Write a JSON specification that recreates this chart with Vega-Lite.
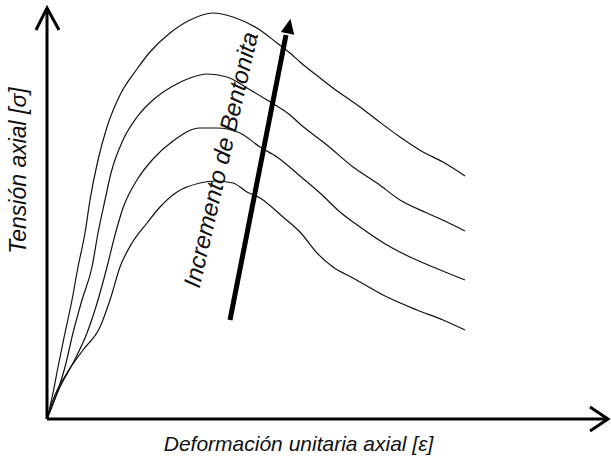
{
  "$schema": "https://vega.github.io/schema/vega-lite/v6.json",
  "width": 564,
  "height": 412,
  "autosize": {"type": "none"},
  "padding": {"left": 47, "top": 7, "right": 0, "bottom": 43},
  "background": "white",
  "config": {"view": {"stroke": null}},
  "datasets": {
    "curves": [
      {"curve": "c1", "strain": 0, "stress": 0},
      {"curve": "c1", "strain": 6, "stress": 26},
      {"curve": "c1", "strain": 11, "stress": 52},
      {"curve": "c1", "strain": 18, "stress": 86},
      {"curve": "c1", "strain": 25, "stress": 119},
      {"curve": "c1", "strain": 31, "stress": 152},
      {"curve": "c1", "strain": 38, "stress": 186},
      {"curve": "c1", "strain": 43, "stress": 219},
      {"curve": "c1", "strain": 51, "stress": 259},
      {"curve": "c1", "strain": 60, "stress": 292},
      {"curve": "c1", "strain": 73, "stress": 324},
      {"curve": "c1", "strain": 90, "stress": 350},
      {"curve": "c1", "strain": 103, "stress": 367},
      {"curve": "c1", "strain": 123, "stress": 386},
      {"curve": "c1", "strain": 143, "stress": 399},
      {"curve": "c1", "strain": 166, "stress": 406},
      {"curve": "c1", "strain": 186, "stress": 402},
      {"curve": "c1", "strain": 213, "stress": 389},
      {"curve": "c1", "strain": 230, "stress": 376},
      {"curve": "c1", "strain": 243, "stress": 366},
      {"curve": "c1", "strain": 253, "stress": 357},
      {"curve": "c1", "strain": 273, "stress": 341},
      {"curve": "c1", "strain": 286, "stress": 331},
      {"curve": "c1", "strain": 313, "stress": 312},
      {"curve": "c1", "strain": 330, "stress": 299},
      {"curve": "c1", "strain": 353, "stress": 282},
      {"curve": "c1", "strain": 376, "stress": 267},
      {"curve": "c1", "strain": 396, "stress": 257},
      {"curve": "c1", "strain": 418, "stress": 243},
      {"curve": "c2", "strain": 0, "stress": 0},
      {"curve": "c2", "strain": 10, "stress": 26},
      {"curve": "c2", "strain": 18, "stress": 52},
      {"curve": "c2", "strain": 26, "stress": 86},
      {"curve": "c2", "strain": 35, "stress": 119},
      {"curve": "c2", "strain": 45, "stress": 152},
      {"curve": "c2", "strain": 51, "stress": 186},
      {"curve": "c2", "strain": 58, "stress": 219},
      {"curve": "c2", "strain": 64, "stress": 246},
      {"curve": "c2", "strain": 76, "stress": 279},
      {"curve": "c2", "strain": 90, "stress": 302},
      {"curve": "c2", "strain": 106, "stress": 319},
      {"curve": "c2", "strain": 126, "stress": 333},
      {"curve": "c2", "strain": 143, "stress": 341},
      {"curve": "c2", "strain": 160, "stress": 345},
      {"curve": "c2", "strain": 180, "stress": 342},
      {"curve": "c2", "strain": 200, "stress": 331},
      {"curve": "c2", "strain": 220, "stress": 319},
      {"curve": "c2", "strain": 243, "stress": 304},
      {"curve": "c2", "strain": 253, "stress": 295},
      {"curve": "c2", "strain": 280, "stress": 274},
      {"curve": "c2", "strain": 306, "stress": 252},
      {"curve": "c2", "strain": 330, "stress": 236},
      {"curve": "c2", "strain": 353, "stress": 219},
      {"curve": "c2", "strain": 380, "stress": 206},
      {"curve": "c2", "strain": 400, "stress": 197},
      {"curve": "c2", "strain": 418, "stress": 188},
      {"curve": "c3", "strain": 0, "stress": 0},
      {"curve": "c3", "strain": 13, "stress": 32},
      {"curve": "c3", "strain": 26, "stress": 56},
      {"curve": "c3", "strain": 40, "stress": 86},
      {"curve": "c3", "strain": 51, "stress": 119},
      {"curve": "c3", "strain": 60, "stress": 152},
      {"curve": "c3", "strain": 68, "stress": 184},
      {"curve": "c3", "strain": 76, "stress": 211},
      {"curve": "c3", "strain": 90, "stress": 239},
      {"curve": "c3", "strain": 106, "stress": 260},
      {"curve": "c3", "strain": 126, "stress": 278},
      {"curve": "c3", "strain": 153, "stress": 291},
      {"curve": "c3", "strain": 170, "stress": 291},
      {"curve": "c3", "strain": 193, "stress": 286},
      {"curve": "c3", "strain": 213, "stress": 272},
      {"curve": "c3", "strain": 230, "stress": 262},
      {"curve": "c3", "strain": 253, "stress": 243},
      {"curve": "c3", "strain": 273, "stress": 226},
      {"curve": "c3", "strain": 293, "stress": 207},
      {"curve": "c3", "strain": 313, "stress": 192},
      {"curve": "c3", "strain": 340, "stress": 174},
      {"curve": "c3", "strain": 363, "stress": 162},
      {"curve": "c3", "strain": 386, "stress": 152},
      {"curve": "c3", "strain": 418, "stress": 139},
      {"curve": "c4", "strain": 0, "stress": 0},
      {"curve": "c4", "strain": 6, "stress": 19},
      {"curve": "c4", "strain": 20, "stress": 46},
      {"curve": "c4", "strain": 36, "stress": 69},
      {"curve": "c4", "strain": 53, "stress": 92},
      {"curve": "c4", "strain": 63, "stress": 119},
      {"curve": "c4", "strain": 73, "stress": 152},
      {"curve": "c4", "strain": 85, "stress": 176},
      {"curve": "c4", "strain": 100, "stress": 196},
      {"curve": "c4", "strain": 113, "stress": 212},
      {"curve": "c4", "strain": 130, "stress": 227},
      {"curve": "c4", "strain": 153, "stress": 236},
      {"curve": "c4", "strain": 168, "stress": 238},
      {"curve": "c4", "strain": 186, "stress": 236},
      {"curve": "c4", "strain": 200, "stress": 227},
      {"curve": "c4", "strain": 213, "stress": 221},
      {"curve": "c4", "strain": 236, "stress": 202},
      {"curve": "c4", "strain": 253, "stress": 187},
      {"curve": "c4", "strain": 270, "stress": 166},
      {"curve": "c4", "strain": 286, "stress": 152},
      {"curve": "c4", "strain": 306, "stress": 141},
      {"curve": "c4", "strain": 336, "stress": 124},
      {"curve": "c4", "strain": 370, "stress": 109},
      {"curve": "c4", "strain": 396, "stress": 99},
      {"curve": "c4", "strain": 418, "stress": 89}
    ],
    "frame": [
      {"seg": "yaxis", "i": 0, "x": 0, "y": 0},
      {"seg": "yaxis", "i": 1, "x": 0, "y": 411},
      {"seg": "yhead", "i": 0, "x": -11, "y": 389},
      {"seg": "yhead", "i": 1, "x": 0, "y": 411},
      {"seg": "yhead", "i": 2, "x": 12, "y": 389},
      {"seg": "xaxis", "i": 0, "x": 0, "y": 0},
      {"seg": "xaxis", "i": 1, "x": 561, "y": 0},
      {"seg": "xhead", "i": 0, "x": 543, "y": 12},
      {"seg": "xhead", "i": 1, "x": 561, "y": 0},
      {"seg": "xhead", "i": 2, "x": 543, "y": -12}
    ],
    "shaft": [
      {"i": 0, "x": 183, "y": 99},
      {"i": 1, "x": 239, "y": 384}
    ],
    "head": [{"x": 242, "y": 393}],
    "label": [{"x": 175, "y": 259, "text": "Incremento de Bentonita"}]
  },
  "layer": [
    {
      "data": {"name": "curves"},
      "mark": {"type": "line", "interpolate": "monotone", "color": "#111111", "strokeWidth": 1.2, "clip": false},
      "encoding": {
        "x": {"field": "strain", "type": "quantitative", "scale": {"domain": [0, 564], "nice": false, "zero": false},
          "axis": {"title": "Deformación unitaria axial [ε]", "domain": false, "ticks": false, "labels": false, "grid": false,
            "titleFont": "Liberation Sans", "titleFontStyle": "italic", "titleFontWeight": "normal", "titleFontSize": 21,
            "titleColor": "#111111", "titleX": 251, "titleY": 31, "titleBaseline": "alphabetic", "titleAlign": "center"}},
        "y": {"field": "stress", "type": "quantitative", "scale": {"domain": [0, 412], "nice": false, "zero": false},
          "axis": {"title": "Tensión axial  [σ]", "domain": false, "ticks": false, "labels": false, "grid": false,
            "titleFont": "Liberation Sans", "titleFontStyle": "italic", "titleFontWeight": "normal", "titleFontSize": 23,
            "titleColor": "#111111", "titleX": -29, "titleY": 163, "titleBaseline": "middle", "titleAlign": "center", "titleAngle": 270}},
        "detail": {"field": "curve"}
      }
    },
    {
      "data": {"name": "frame"},
      "mark": {"type": "line", "color": "#000000", "strokeWidth": 3, "clip": false, "strokeCap": "butt", "strokeJoin": "miter"},
      "encoding": {
        "x": {"field": "x", "type": "quantitative"},
        "y": {"field": "y", "type": "quantitative"},
        "detail": {"field": "seg"},
        "order": {"field": "i"}
      }
    },
    {
      "data": {"name": "shaft"},
      "mark": {"type": "line", "color": "#000000", "strokeWidth": 5, "clip": false, "strokeCap": "butt"},
      "encoding": {
        "x": {"field": "x", "type": "quantitative"},
        "y": {"field": "y", "type": "quantitative"},
        "order": {"field": "i"}
      }
    },
    {
      "data": {"name": "head"},
      "mark": {"type": "point", "shape": "M0,-1L0.9,1L-0.9,1Z", "filled": true, "color": "#000000", "opacity": 1, "size": 225, "angle": 11, "clip": false},
      "encoding": {
        "x": {"field": "x", "type": "quantitative"},
        "y": {"field": "y", "type": "quantitative"}
      }
    },
    {
      "data": {"name": "label"},
      "mark": {"type": "text", "font": "Liberation Sans", "fontStyle": "italic", "fontSize": 24, "angle": 283, "align": "center", "baseline": "middle", "color": "#111111", "clip": false},
      "encoding": {
        "x": {"field": "x", "type": "quantitative"},
        "y": {"field": "y", "type": "quantitative"},
        "text": {"field": "text"}
      }
    }
  ]
}
